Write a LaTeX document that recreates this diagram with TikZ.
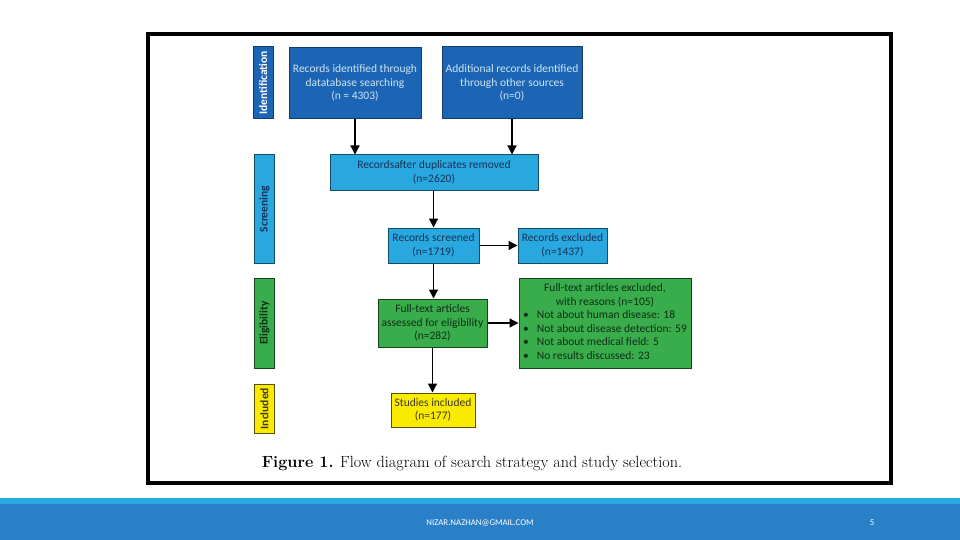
\documentclass[tikz,border=0pt]{standalone}
\usepackage{fontspec}
\newfontfamily\flowfont{Carlito}
\definecolor{idblue}{RGB}{28, 100, 180}
\definecolor{idtext}{RGB}{205, 228, 245}
\definecolor{scrblue}{RGB}{41, 168, 224}
\definecolor{scrtext}{RGB}{22, 50, 88}
\definecolor{eliggreen}{RGB}{57, 172, 75}
\definecolor{eligtext}{RGB}{12, 48, 22}
\definecolor{inclyellow}{RGB}{250, 234, 0}
\definecolor{incltext}{RGB}{60, 58, 30}
\definecolor{footlight}{RGB}{38, 170, 226}
\definecolor{footdark}{RGB}{41, 128, 198}
\usetikzlibrary{arrows.meta, positioning, calc}
\tikzset{
  flowbox/.style={draw, line width=1pt, align=center, inner sep=2pt, font=\flowfont\fontsize{11.5}{13.5}\selectfont},
  idbox/.style={flowbox, fill=idblue, draw=idblue!60!black, text=idtext},
  scrbox/.style={flowbox, fill=scrblue, draw=scrblue!45!black, text=scrtext},
  eligbox/.style={flowbox, fill=eliggreen, draw=eliggreen!40!black, text=eligtext},
  inclbox/.style={flowbox, fill=inclyellow, draw=inclyellow!35!black, text=incltext},
  phasebar/.style={draw, line width=1pt, rotate=90, minimum height=20pt, inner sep=1pt, font=\flowfont\bfseries\fontsize{11.5}{12}\selectfont},
  farrow/.style={-{Triangle[width=9pt, length=9pt]}, line width=1.3pt},
  foottext/.style={text=white, font=\flowfont\fontsize{8.8}{9}\selectfont},
}
\begin{document}
\begin{tikzpicture}[x=1pt, y=-1pt]
  \useasboundingbox (0,0) rectangle (960,540);
  % slide footer
  \fill[footlight] (0,498) rectangle (960,504);
  \fill[footdark] (0,504) rectangle (960,540);
  \node[foottext] (mail) at (480,523) {NIZAR.NAZHAN@GMAIL.COM};
  \node[foottext] (page) at (872,523) {5};
  % figure frame
  \draw[line width=4pt] (148,34) rectangle (890.5,482.5);
  % phase bars
  \node[phasebar, fill=idblue, draw=idblue!60!black, text=white, minimum width=72pt] (ident) at (263,83) {Identification};
  \node[phasebar, fill=scrblue, draw=scrblue!45!black, text=scrtext, minimum width=108pt] (screen) at (264.5,209) {Screening};
  \node[phasebar, fill=eliggreen, draw=eliggreen!40!black, text=eligtext, minimum width=90pt] (elig) at (264.5,323) {Eligibility};
  \node[phasebar, fill=inclyellow, draw=inclyellow!35!black, text=incltext, minimum width=49pt] (incl) at (264.5,408.5) {Included};
  % boxes
  \node[idbox, minimum width=132pt, minimum height=71pt] (recdb) at (355,83) {Records identified through\\datatabase searching\\(n = 4303)};
  \node[idbox, minimum width=140pt, minimum height=72pt] (recother) at (512,83) {Additional records identified\\through other sources\\(n=0)};
  \node[scrbox, minimum width=208pt, minimum height=35pt] (dedup) at (434,172.5) {Recordsafter duplicates removed\\(n=2620)};
  \node[scrbox, minimum width=91pt, minimum height=35pt] (screened) at (433.5,245.5) {Records screened\\(n=1719)};
  \node[scrbox, minimum width=89pt, minimum height=35pt] (excl) at (562.5,245.5) {Records excluded\\(n=1437)};
  \node[eligbox, minimum width=109pt, minimum height=48pt] (fulltext) at (432.5,323) {Full-text articles\\assessed for eligibility\\(n=282)};
  \node[eligbox, minimum width=172pt, minimum height=90pt, inner sep=3pt] (ftexcl) at (605,323) {%
    \begin{tabular}{@{}l@{\hspace{8pt}}l@{}}
      \multicolumn{2}{c}{Full-text articles excluded,}\\
      \multicolumn{2}{c}{with reasons (n=105)}\\
      \textbullet & Not about human disease: 18\\
      \textbullet & Not about disease detection: 59\\
      \textbullet & Not about medical field: 5\\
      \textbullet & No results discussed: 23
    \end{tabular}};
  \node[inclbox, minimum width=84pt, minimum height=34pt] (studies) at (433,410) {Studies included\\(n=177)};
  % connectors
  \draw[farrow] (recdb.south) -- (recdb.south |- dedup.north);
  \draw[farrow] (recother.south) -- (recother.south |- dedup.north);
  \draw[farrow] (dedup.south -| screened.north) -- (screened.north);
  \draw[farrow] (screened.east) -- (excl.west);
  \draw[farrow] (screened.south) -- (fulltext.north -| screened.south);
  \draw[farrow] (fulltext.east) -- (ftexcl.west |- fulltext.east);
  \draw[farrow] (fulltext.south) -- (studies.north -| fulltext.south);
  % caption
  \node[text=black, font=\fontsize{16.2}{18}\selectfont] (caption) at (472,463) {\textbf{Figure 1.} Flow diagram of search strategy and study selection.};
\end{tikzpicture}
\end{document}
